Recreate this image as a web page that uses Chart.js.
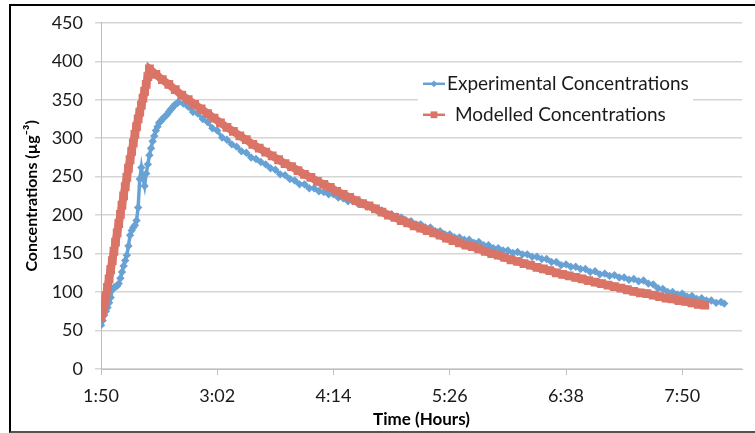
<!DOCTYPE html>
<html lang="en">
<head>
    <meta charset="UTF-8">
    <title>Experimental vs Modelled Concentrations</title>
    <script src="https://cdn.jsdelivr.net/npm/chart.js"></script>
    <style>
        body { margin: 0; background: #fff; }
        #wrap { position: relative; width: 755px; height: 433px; }
        #wrap canvas { position: absolute; left: 0; top: 0; }
        #frame {
            position: absolute; left: 9px; top: 4px; width: 746px; height: 425px;
            border-top: 2px solid #000; border-left: 2px solid #000; border-bottom: 2px solid #5d4f4d;
            pointer-events: none;
        }
    </style>
</head>
<body>
    <div id="wrap">
        <canvas id="concChart" width="755" height="433"></canvas>
        <div id="frame"></div>
    </div>

    <script>
        // time axis is in minutes after midnight, series times are minutes after 1:50
        const startMin = 110;
        const xTickMin = [110, 182, 254, 326, 398, 470];   // 1:50 ... 7:50

        const expLabel = 'Experimental Concentrations';
        const expTime = [
            0, 1, 2, 3, 4, 5, 6, 7, 8, 9, 10, 11, 12, 13, 14, 15, 16, 17, 18, 19,
            20, 21, 22, 23, 24, 25, 26, 27, 28, 29, 30, 31, 32, 33, 34, 35, 36, 37, 38, 39,
            40, 41, 42, 43, 44, 45, 46, 47,
            48, 51, 54, 57, 60, 63, 66, 69, 72, 75,
            78, 81, 84, 87, 90, 93, 96, 99, 102, 105,
            108, 111, 114, 117, 120, 123, 126, 129, 132, 135,
            138, 141, 144, 147, 150, 153, 156, 159, 162, 165,
            168, 171, 174, 177, 180, 183, 186, 189, 192, 195,
            198, 201, 204, 207, 210, 213, 216, 219, 222, 225,
            228, 231, 234, 237, 240, 243, 246, 249, 252, 255,
            258, 261, 264, 267, 270, 273, 276, 279, 282, 285,
            288, 291, 294, 297, 300, 303, 306, 309, 312, 315,
            318, 321, 324, 327, 330, 333, 336, 339, 342, 345,
            348, 351, 354, 357, 360, 363, 366, 369, 372, 375,
            378, 381, 384, 386
        ];
        const expConc = [
            57, 63, 70, 75, 80, 86, 93, 103, 106, 107, 108, 111, 118, 126, 134, 141, 148, 160, 174, 180,
            184, 187, 193, 210, 247, 262, 248, 238, 254, 266, 278, 287, 296, 303, 310, 315, 320, 322, 325, 327,
            329, 331, 334, 337, 339, 342, 344, 345,
            347, 345, 341, 334, 332, 325, 321, 313, 310, 301,
            298, 292, 289, 283, 281, 275, 273, 269, 266, 261,
            259, 253, 252, 247, 245, 240, 240, 235, 235, 231,
            230, 227, 227, 223, 222, 218, 218, 215, 214, 211,
            210, 206, 206, 202, 201, 198, 197, 193, 192, 188,
            188, 184, 184, 179, 179, 175, 175, 171, 171, 168,
            168, 164, 165, 161, 161, 157, 157, 154, 154, 151,
            152, 149, 149, 146, 146, 143, 143, 139, 139, 135,
            136, 133, 133, 130, 130, 126, 127, 123, 124, 121,
            122, 119, 119, 116, 117, 114, 115, 111, 110, 105,
            104, 100, 100, 97, 98, 94, 95, 91, 92, 89,
            89, 86, 87, 85
        ];

        const modLabel = 'Modelled Concentrations';
        const modTime = [
            0, 1, 2, 3, 4, 5, 6, 7, 8, 9, 10, 11, 12, 13, 14, 15, 16, 17, 18, 19,
            20, 21, 22, 23, 24, 25, 26, 27, 28, 29, 30,
            34, 38, 42, 46, 50, 54, 58, 62, 66, 70,
            74, 78, 82, 86, 90, 94, 98, 102, 106, 110,
            114, 118, 122, 126, 130, 134, 138, 142, 146, 150,
            154, 158, 162, 166, 170, 174, 178, 182, 186, 190,
            194, 198, 202, 206, 210, 214, 218, 222, 226, 230,
            234, 238, 242, 246, 250, 254, 258, 262, 266, 270,
            274, 278, 282, 286, 290, 294, 298, 302, 306, 310,
            314, 318, 322, 326, 330, 334, 338, 342, 346, 350,
            354, 358, 362, 366, 370, 374
        ];
        const modConc = [
            67, 76, 85, 95, 106, 117, 129, 141, 153, 165, 177, 189, 201, 213, 225, 237, 249, 261, 272, 283,
            294, 305, 315, 325, 334, 343, 352, 361, 370, 380, 390,
            383, 376, 370, 363, 356, 350, 344, 338, 332, 326,
            320, 314, 309, 303, 298, 292, 287, 282, 277, 272,
            267, 263, 258, 253, 249, 244, 240, 236, 231, 227,
            223, 219, 215, 212, 208, 204, 200, 197, 193, 190,
            186, 183, 180, 177, 174, 170, 167, 164, 161, 159,
            156, 153, 150, 148, 145, 142, 140, 137, 135, 132,
            130, 128, 125, 123, 121, 119, 117, 115, 113, 111,
            109, 107, 105, 103, 101, 99, 98, 96, 94, 92,
            91, 89, 88, 86, 84, 83
        ];

        const blue = '#68a2d4';
        const red = '#da7467';
        const FONT = 'Lato, "Open Sans", sans-serif';

        function toPoints(times, vals) {
            return times.map((t, i) => ({ x: startMin + t, y: vals[i] }));
        }

        function clock(v) {
            const h = Math.floor(v / 60);
            const m = Math.round(v % 60);
            return h + ':' + String(m).padStart(2, '0');
        }

        // legend sits inside the plot, top right, over a white box
        const innerLegend = {
            id: 'innerLegend',
            afterDatasetsDraw(chart) {
                const ctx = chart.ctx;
                const a = chart.chartArea;
                const bx = a.left + 317, by = a.top + 46;
                ctx.save();
                ctx.fillStyle = '#fff';
                ctx.fillRect(bx, by, 275, 60);
                const rows = [
                    { ds: chart.data.datasets[0], y: by + 15, tx: bx + 29, r: 3.4 },
                    { ds: chart.data.datasets[1], y: by + 46, tx: bx + 37, r: 4.8 }
                ];
                rows.forEach(row => {
                    const x1 = bx + 5, x2 = bx + 27;
                    ctx.strokeStyle = row.ds.borderColor;
                    ctx.lineWidth = 2.5;
                    ctx.beginPath();
                    ctx.moveTo(x1, row.y);
                    ctx.lineTo(x2, row.y);
                    ctx.stroke();
                    ctx.fillStyle = row.ds.borderColor;
                    Chart.helpers.drawPoint(ctx, { pointStyle: row.ds.pointStyle, radius: row.r, borderWidth: 0, rotation: 0 }, (x1 + x2) / 2, row.y);
                    ctx.fillStyle = '#1a1a1a';
                    ctx.font = '19px ' + FONT;
                    ctx.textBaseline = 'middle';
                    ctx.textAlign = 'left';
                    ctx.fillText(row.ds.label, row.tx, row.y);
                });
                ctx.restore();
            }
        };

        const ctx = document.getElementById('concChart').getContext('2d');
        const concChart = new Chart(ctx, {
            type: 'line',
            data: {
                datasets: [
                    {
                        label: expLabel,
                        data: toPoints(expTime, expConc),
                        borderColor: blue,
                        backgroundColor: blue,
                        borderWidth: 3.5,
                        pointStyle: 'rectRot',
                        pointRadius: 4.2,
                        pointBorderWidth: 0,
                        tension: 0,
                        fill: false,
                        order: 1
                    },
                    {
                        label: modLabel,
                        data: toPoints(modTime, modConc),
                        borderColor: red,
                        backgroundColor: red,
                        borderWidth: 8,
                        pointStyle: 'rect',
                        pointRadius: 6.2,
                        pointBorderWidth: 0,
                        tension: 0,
                        fill: false,
                        order: 0
                    }
                ]
            },
            options: {
                responsive: false,
                animation: false,
                layout: { padding: { left: 0, top: 16, right: 13, bottom: 0 } },
                plugins: {
                    legend: { display: false },
                    tooltip: { enabled: false }
                },
                scales: {
                    x: {
                        type: 'linear',
                        min: 110,
                        max: 507,
                        afterBuildTicks: s => { s.ticks = xTickMin.map(v => ({ value: v })); },
                        afterFit: s => { s.height = 64; },
                        grid: { drawOnChartArea: false, tickLength: 6, color: '#bfbfbf' },
                        border: { color: '#bfbfbf' },
                        ticks: {
                            callback: v => clock(v),
                            font: { family: FONT, size: 18 },
                            color: '#1a1a1a',
                            padding: 10,
                            maxRotation: 0
                        },
                        title: {
                            display: true,
                            text: 'Time (Hours)',
                            font: { family: FONT, size: 17, weight: 'bold' },
                            color: '#000',
                            padding: { top: 0, bottom: 3 }
                        }
                    },
                    y: {
                        min: 0,
                        max: 450,
                        afterFit: s => { s.width = 101; },
                        grid: { color: '#d6d6d6', lineWidth: 1.5, tickLength: 6 },
                        border: { color: '#bfbfbf' },
                        ticks: {
                            stepSize: 50,
                            font: { family: FONT, size: 18 },
                            color: '#1a1a1a',
                            padding: 12
                        },
                        title: {
                            display: true,
                            text: 'Concentrations (µg⁻³)',
                            font: { family: FONT, size: 16, weight: 'bold' },
                            color: '#000',
                            padding: { top: 22, bottom: 0 }
                        }
                    }
                }
            },
            plugins: [innerLegend]
        });
    </script>
</body>
</html>
